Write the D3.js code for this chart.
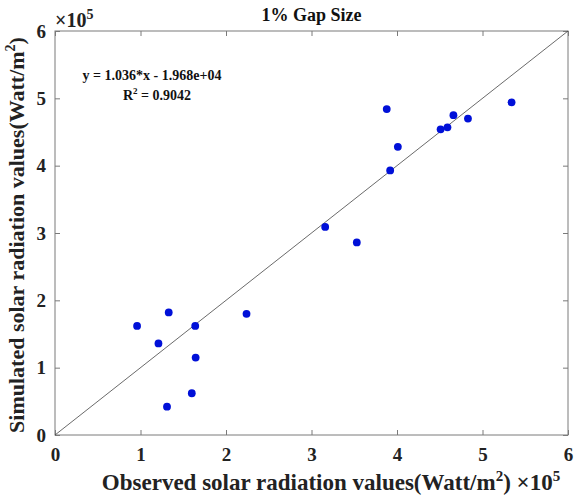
<!DOCTYPE html>
<html>
<head>
<meta charset="utf-8">
<script src="https://cdn.jsdelivr.net/npm/d3@7"></script>
<style>
  body { margin: 0; background: #fff; }
  svg { display: block; }
</style>
</head>
<body>
<svg width="574" height="497"></svg>
<script>
// observed / simulated values, in units of 1e5 Watt/m^2
const observed = [0.96, 1.21, 1.33, 1.31, 1.60, 1.645, 1.64, 2.24, 3.16, 3.53, 3.88, 3.92, 4.01, 4.51, 4.59, 4.66, 4.83, 5.34];
const simulated = [1.62, 1.36, 1.82, 0.42, 0.62, 1.15, 1.62, 1.80, 3.09, 2.86, 4.84, 3.93, 4.28, 4.54, 4.57, 4.75, 4.70, 4.94];
const ticks = [0, 1, 2, 3, 4, 5, 6];
const title = "1% Gap Size";
const fitText = "y = 1.036*x - 1.968e+04";
const r2Text = "0.9042";

const margin = { top: 31, right: 6, bottom: 62, left: 55 };
const W = 574, H = 497;
const width = W - margin.left - margin.right,
  height = H - margin.top - margin.bottom;

const font = "'Liberation Serif', 'Times New Roman', serif";

var svg = d3.select("svg");
var g = svg.append("g").attr("transform", "translate(" + margin.left + "," + margin.top + ")");

var x = d3.scaleLinear().domain([0, 6]).range([0, width]);
var y = d3.scaleLinear().domain([0, 6]).range([height, 0]);

// frame
g.append("rect")
  .attr("width", width).attr("height", height)
  .attr("fill", "none").attr("stroke", "#7a7a7a").attr("stroke-width", 1);

function styleAxis(sel, showLabels) {
  sel.select(".domain").remove();
  sel.selectAll(".tick line").attr("stroke", "#7a7a7a");
  sel.selectAll(".tick text")
    .attr("fill", "#222")
    .attr("font-family", font)
    .attr("font-weight", "bold")
    .style("font-size", "19px")
    .style("display", showLabels ? null : "none");
}

g.append("g").attr("transform", "translate(0," + height + ")")
  .call(d3.axisBottom(x).tickValues(ticks).tickFormat(d3.format("d")).tickSize(-5).tickPadding(13))
  .call(s => styleAxis(s, true));
g.append("g")
  .call(d3.axisLeft(y).tickValues(ticks).tickFormat(d3.format("d")).tickSize(-5).tickPadding(9))
  .call(s => styleAxis(s, true));
g.append("g")
  .call(d3.axisTop(x).tickValues(ticks).tickSize(-5))
  .call(s => styleAxis(s, false));
g.append("g").attr("transform", "translate(" + width + ",0)")
  .call(d3.axisRight(y).tickValues(ticks).tickSize(-5))
  .call(s => styleAxis(s, false));

// 1:1 line
g.append("line")
  .attr("x1", x(0)).attr("y1", y(0))
  .attr("x2", x(6)).attr("y2", y(6))
  .attr("stroke", "#444").attr("stroke-width", 0.8);

// points
g.selectAll("circle.pt")
  .data(observed.map((d, i) => [d, simulated[i]]))
  .enter().append("circle")
  .attr("class", "pt")
  .attr("cx", d => x(d[0]))
  .attr("cy", d => y(d[1]))
  .attr("r", 3.9)
  .attr("fill", "#0010d8");

// title
svg.append("text")
  .attr("x", margin.left + width / 2).attr("y", 21)
  .attr("text-anchor", "middle")
  .attr("font-family", font).attr("font-weight", "bold")
  .style("font-size", "18px").attr("fill", "#111")
  .text(title);

// exponent label on y axis
var ex = svg.append("text")
  .attr("x", 55).attr("y", 27)
  .attr("font-family", font).attr("font-weight", "bold")
  .style("font-size", "20px").attr("fill", "#222");
ex.append("tspan").text("\u00d710");
ex.append("tspan").attr("dy", -8).style("font-size", "14px").text("5");

// fit annotation
svg.append("text")
  .attr("x", 152).attr("y", 80)
  .attr("text-anchor", "middle")
  .attr("font-family", font).attr("font-weight", "bold")
  .style("font-size", "14px").attr("fill", "#111")
  .text(fitText);
var r2 = svg.append("text")
  .attr("x", 157).attr("y", 100)
  .attr("text-anchor", "middle")
  .attr("font-family", font).attr("font-weight", "bold")
  .style("font-size", "14px").attr("fill", "#111");
r2.append("tspan").text("R");
r2.append("tspan").attr("dy", -6).style("font-size", "9px").text("2");
r2.append("tspan").attr("dy", 6).text(" = " + r2Text);

// x label
var xl = svg.append("text")
  .attr("x", 331).attr("y", 490)
  .attr("text-anchor", "middle")
  .attr("font-family", font).attr("font-weight", "bold")
  .style("font-size", "23px").attr("fill", "#222");
xl.append("tspan").text("Observed solar radiation values(Watt/m");
xl.append("tspan").attr("dy", -9).style("font-size", "15px").text("2");
xl.append("tspan").attr("dy", 9).text(") \u00d710");
xl.append("tspan").attr("dy", -9).style("font-size", "15px").text("5");

// y label
var yl = svg.append("text")
  .attr("transform", "translate(24," + (margin.top + height / 2 + 2) + ") rotate(-90)")
  .attr("text-anchor", "middle")
  .attr("font-family", font).attr("font-weight", "bold")
  .style("font-size", "22px").attr("fill", "#222");
yl.append("tspan").text("Simulated solar radiation values(Watt/m");
yl.append("tspan").attr("dy", -9).style("font-size", "14px").text("2");
yl.append("tspan").attr("dy", 9).text(")");
</script>
</body>
</html>
